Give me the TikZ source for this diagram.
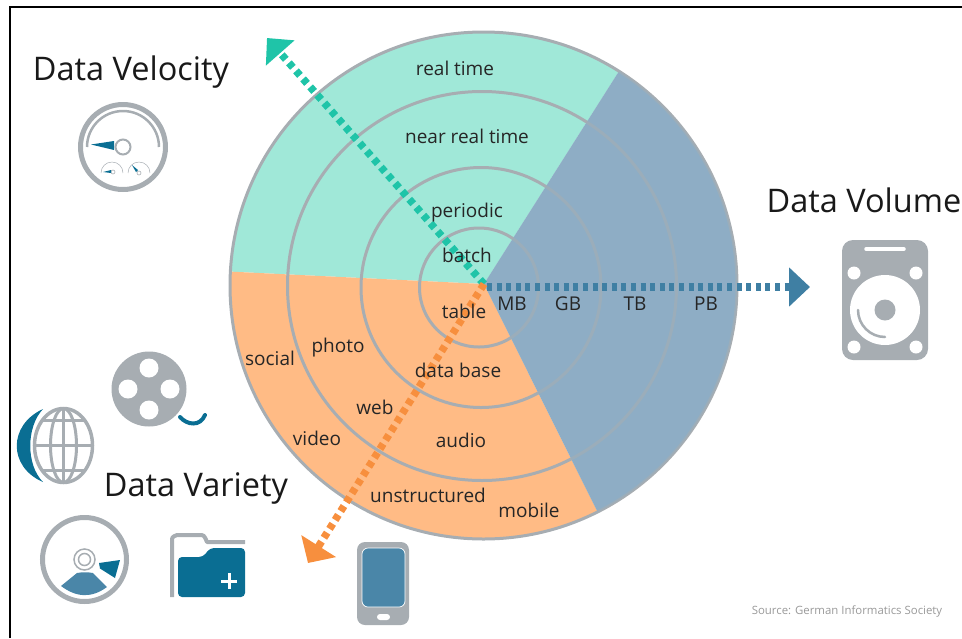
\documentclass[tikz,border=0pt]{standalone}
\usepackage{fontspec}
\setmainfont{Open Sans}
\usetikzlibrary{arrows.meta}
\definecolor{wedgeteal}{HTML}{A0E8D8}
\definecolor{wedgeblue}{HTML}{8EADC5}
\definecolor{wedgeorange}{HTML}{FFBB85}
\definecolor{ringgrey}{HTML}{A7ADB2}
\definecolor{arrowteal}{HTML}{1FC4A8}
\definecolor{arrowblue}{HTML}{3F7FA3}
\definecolor{arroworange}{HTML}{F78F3E}
\definecolor{icondark}{HTML}{0A6E93}
\definecolor{iconmid}{HTML}{4A86A8}
\tikzset{
  ring/.style={draw=ringgrey,line width=3pt},
  ringlabel/.style={font=\fontsize{19}{22}\selectfont,text=black!85,inner sep=0pt,anchor=base},
  title/.style={font=\fontsize{32.5}{38}\selectfont,text=black!90,inner sep=0pt,anchor=base},
  axis/.style={line width=7.5pt},
  icongrey/.style={fill=ringgrey,draw=none},
  iconline/.style={draw=ringgrey,fill=none},
}
\begin{document}
\begin{tikzpicture}[x=1pt,y=-1pt]
  \useasboundingbox (0,0) rectangle (962,638);
  \draw[line width=1.5pt] (10,638) -- (10,7) -- (962,7);

  % disc
  \coordinate (hub) at (484,284);
  \begin{scope}
    \clip (483.5,285.5) circle (253.5);
    \fill[wedgeteal] (hub) -- ++(182.8:400) arc[start angle=182.8,end angle=302.4,radius=400] -- cycle;
    \fill[wedgeorange] (hub) -- ++(63.5:400) arc[start angle=63.5,end angle=182.8,radius=400] -- cycle;
    \fill[wedgeblue] (hub) -- ++(-57.6:400) arc[start angle=-57.6,end angle=63.5,radius=400] -- cycle;
  \end{scope}
  \draw[ring] (483.5,285.5) circle (253.5);
  \draw[ring] (482,286) circle (194.5);
  \draw[ring] (481,287.5) circle (120);
  \draw[ring] (479,287.5) circle (59.5);
  \begin{scope}
    \clip (483.5,285.5) circle (253.5);
    \fill[wedgeblue,opacity=.45] (hub) -- ++(-57.6:400) arc[start angle=-57.6,end angle=63.5,radius=400] -- cycle;
  \end{scope}

  % axes
  \coordinate (velocitytip) at (267,38);
  \coordinate (volumestart) at (487,287);
  \coordinate (volumetip) at (810,287);
  \coordinate (varietytip) at (308,563);
  \draw[axis,arrowteal,dash pattern=on 6pt off 4.7pt,-{Triangle[length=20pt,width=37pt]}] (hub) -- (velocitytip);
  \draw[axis,arrowblue,dash pattern=on 5pt off 4.6pt,-{Triangle[length=21pt,width=38pt]}] (volumestart) -- (volumetip);
  \draw[axis,arroworange,dash pattern=on 6pt off 4.5pt,-{Triangle[length=20pt,width=40pt]}] (hub) -- (varietytip);

  % labels
  \foreach \lblname/\x/\y/\txt in {realtime/455/75/real time,nearreal/467/143/near real time,periodic/467/217/periodic,
    batch/467/262/batch,tablelbl/464/318/table,mb/512/310/MB,gb/568/310/GB,tb/635/310/TB,pb/706/310/PB,
    photo/338/352/photo,social/270/365/social,database/458/377/data base,web/375/414/web,video/317/445/video,
    audio/461/447/audio,unstructured/428/502/unstructured,mobile/529/517/mobile} {
    \node[ringlabel] (\lblname) at (\x,\y) {\txt};
  }
  \node[title] (velocity) at (131,80) {Data Velocity};
  \node[title] (volume) at (864,212) {Data Volume};
  \node[title] (variety) at (196,496) {Data Variety};
  \node[font=\fontsize{11.4}{13}\selectfont,text=black!40,inner sep=0pt] (source) at (847,611) {Source: German Informatics Society};

  % gauge
  \draw[iconline,line width=5pt] (123,147) circle (42.5);
  \draw[iconline,line width=2.5pt] (87,147) arc[start angle=180,end angle=360,radius=36];
  \draw[iconline,line width=2pt] (123,147) circle (7.5);
  \fill[icondark] (91,144.5) -- (114,141) -- (114,150) -- cycle;
  \draw[iconline,line width=.5pt] (101,173) arc[start angle=180,end angle=360,radius=11];
  \draw[iconline,line width=.5pt] (128,173) arc[start angle=180,end angle=360,radius=11];
  \draw[iconline,line width=.6pt] (113,172) circle (2);
  \draw[iconline,line width=.6pt] (139,173) circle (2);
  \fill[icondark] (103,172) -- (111,170) -- (111,173) -- cycle;
  \fill[icondark] (132,165) -- (138,170) -- (136,172) -- cycle;

  % disk drive
  \fill[icongrey,rounded corners=11pt] (842,240) rectangle (928,360);
  \draw[white,line width=3.5pt,line cap=round] (866,249) -- (904,249);
  \foreach \x/\y in {854/273,916/273,854/347,916/347} {
    \fill[white] (\x,\y) circle (6.5);
  }
  \fill[white] (885,310) circle (35);
  \fill[ringgrey] (885,310) circle (10.5);
  \draw[iconline,line width=2.5pt,line cap=round] (858,310) arc[start angle=180,end angle=90,radius=27];

  % film reel
  \fill[icongrey] (149,389) circle (37.5);
  \foreach \x/\y in {149/368,128/389,170/389,149/410} {
    \fill[white] (\x,\y) circle (9.5);
  }
  \draw[icondark,line width=4pt,line cap=round] (180,417) .. controls (187,425) and (200,427) .. (205,415);

  % globe
  \fill[icondark] (43,409) .. controls (8,425) and (8,467) .. (43,482) .. controls (26,465) and (26,427) .. (43,409) -- cycle;
  \draw[iconline,line width=3.5pt] (63.5,445.5) ellipse (29 and 37);
  \draw[iconline,line width=3pt] (63.5,445.5) ellipse (13 and 37);
  \draw[iconline,line width=3pt] (63.5,409) -- (63.5,482);
  \draw[iconline,line width=3pt] (35,445.5) -- (92,445.5);
  \draw[iconline,line width=3pt] (42,420) -- (85,420);
  \draw[iconline,line width=3pt] (42,470) -- (85,470);

  % cd
  \draw[iconline,line width=5pt] (84.5,559.5) circle (42);
  \draw[iconline,line width=1.5pt] (84.5,559.5) circle (10.5);
  \draw[iconline,line width=1.5pt] (84.5,559.5) circle (6);
  \fill[iconmid] (61,586) .. controls (77,598) and (92,598) .. (107,587) -- (93,573) .. controls (88,572) and (82,572) .. (77,573) -- cycle;
  \fill[icondark] (99,563) -- (120,560) -- (115,578) -- (100,568.5) -- cycle;

  % folder
  \draw[iconline,line width=4pt,line join=round] (172,597) -- (172,542) .. controls (172,537) .. (177,535) -- (199,535) .. controls (204,535) .. (207,542) -- (245,542);
  \fill[icondark,rounded corners=4pt] (178,597) -- (178,557) -- (203,557) -- (210,548) -- (245,548) -- (245,597) -- cycle;
  \draw[white,line width=3pt] (229,573) -- (229,589) (221,581) -- (237,581);

  % phone
  \fill[icongrey,rounded corners=8pt] (357,542) rectangle (409,625);
  \draw[white,fill=iconmid,line width=.7pt,rounded corners=6pt] (362,548) rectangle (405,607);
  \fill[white,rounded corners=3pt] (377,614) rectangle (390,620);
\end{tikzpicture}
\end{document}
